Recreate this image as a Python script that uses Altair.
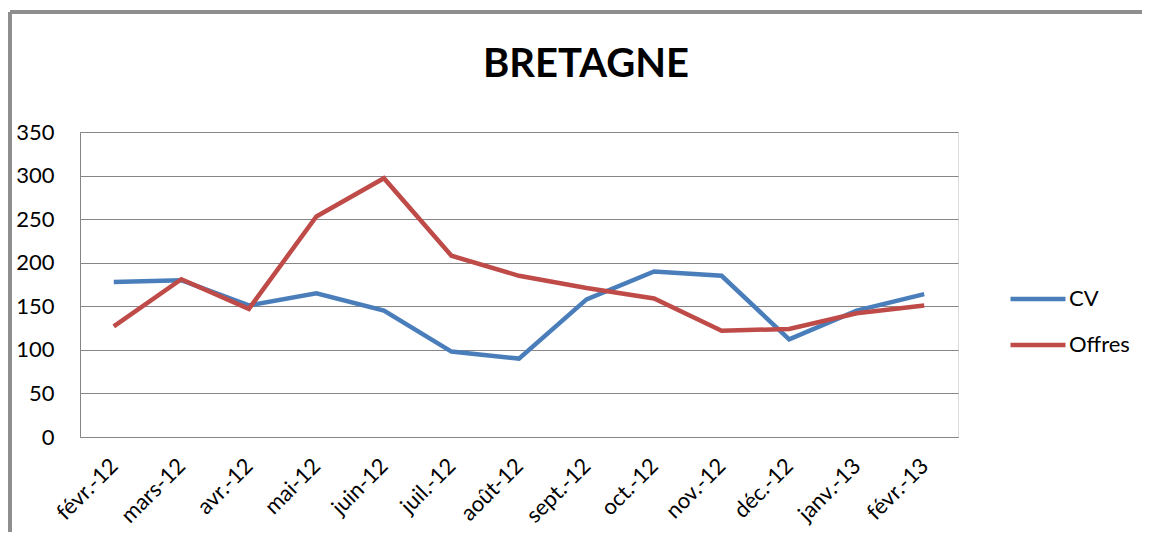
import altair as alt
import pandas as pd

months = ["févr.-12", "mars-12", "avr.-12", "mai-12", "juin-12", "juil.-12", "août-12",
          "sept.-12", "oct.-12", "nov.-12", "déc.-12", "janv.-13", "févr.-13"]
cv = [178, 180, 151, 165, 145, 98, 90, 158, 190, 185, 112, 145, 164]
offres = [127, 181, 147, 253, 297, 208, 185, 171, 159, 122, 124, 142, 151]
series = ["CV", "Offres"]
colors = ["#4A7EBB", "#BE4B48"]
title_text = "BRETAGNE"

df = pd.DataFrame({
    "mois": months * 2,
    "valeur": cv + offres,
    "serie": [series[0]] * len(months) + [series[1]] * len(months),
})

FONT = "Lato"

lines = alt.Chart(df).mark_line(strokeWidth=4.5, strokeJoin="miter").encode(
    x=alt.X("mois:N", sort=months, title=None,
            scale=alt.Scale(type="point", padding=0.5),
            axis=alt.Axis(labelAngle=-45, labelAlign="right", labelBaseline="middle",
                          labelPadding=25, ticks=False, domain=True, domainColor="#868686",
                          labelFont=FONT, labelFontSize=22, labelColor="#000000",
                          grid=False)),
    y=alt.Y("valeur:Q", title=None,
            scale=alt.Scale(domain=[0, 350], nice=False),
            axis=alt.Axis(values=[0, 50, 100, 150, 200, 250, 300, 350], ticks=False,
                          domain=True, domainColor="#868686", labelPadding=26,
                          labelFont=FONT, labelFontSize=22, labelColor="#000000",
                          grid=True, gridColor="#868686", gridWidth=1)),
    color=alt.Color("serie:N", scale=alt.Scale(domain=series, range=colors),
                    legend=alt.Legend(title=None, orient="none", legendX=928, legendY=137,
                                      symbolType="stroke", symbolSize=3025,
                                      symbolStrokeWidth=4.5, labelFont=FONT,
                                      labelFontSize=22, labelColor="#000000",
                                      labelOffset=1, rowPadding=5)),
)

frame_top = alt.Chart(df).mark_rule(color="#8E8E8E", strokeWidth=3).encode(
    x=alt.value(-70), x2=alt.value(1080), y=alt.value(-120))
frame_left = alt.Chart(df).mark_rule(color="#8E8E8E", strokeWidth=3).encode(
    x=alt.value(-70), y=alt.value(-120), y2=alt.value(420))

title = alt.Chart(pd.DataFrame({"t": [title_text]})).mark_text(
    font=FONT, fontSize=40, fontWeight="bold", color="#000000",
    align="center", baseline="alphabetic").encode(
    text="t:N", x=alt.value(506), y=alt.value(-55))

chart = alt.layer(frame_top, frame_left, title, lines).properties(
    width=878, height=305,
    autosize=alt.AutoSizeParams(type="none"),
    padding={"left": 72, "top": 124, "right": 184, "bottom": 95},
).configure_view(stroke=None).configure(background="#ffffff")

chart.save("out.html", embed_options={"renderer": "svg", "actions": False})
